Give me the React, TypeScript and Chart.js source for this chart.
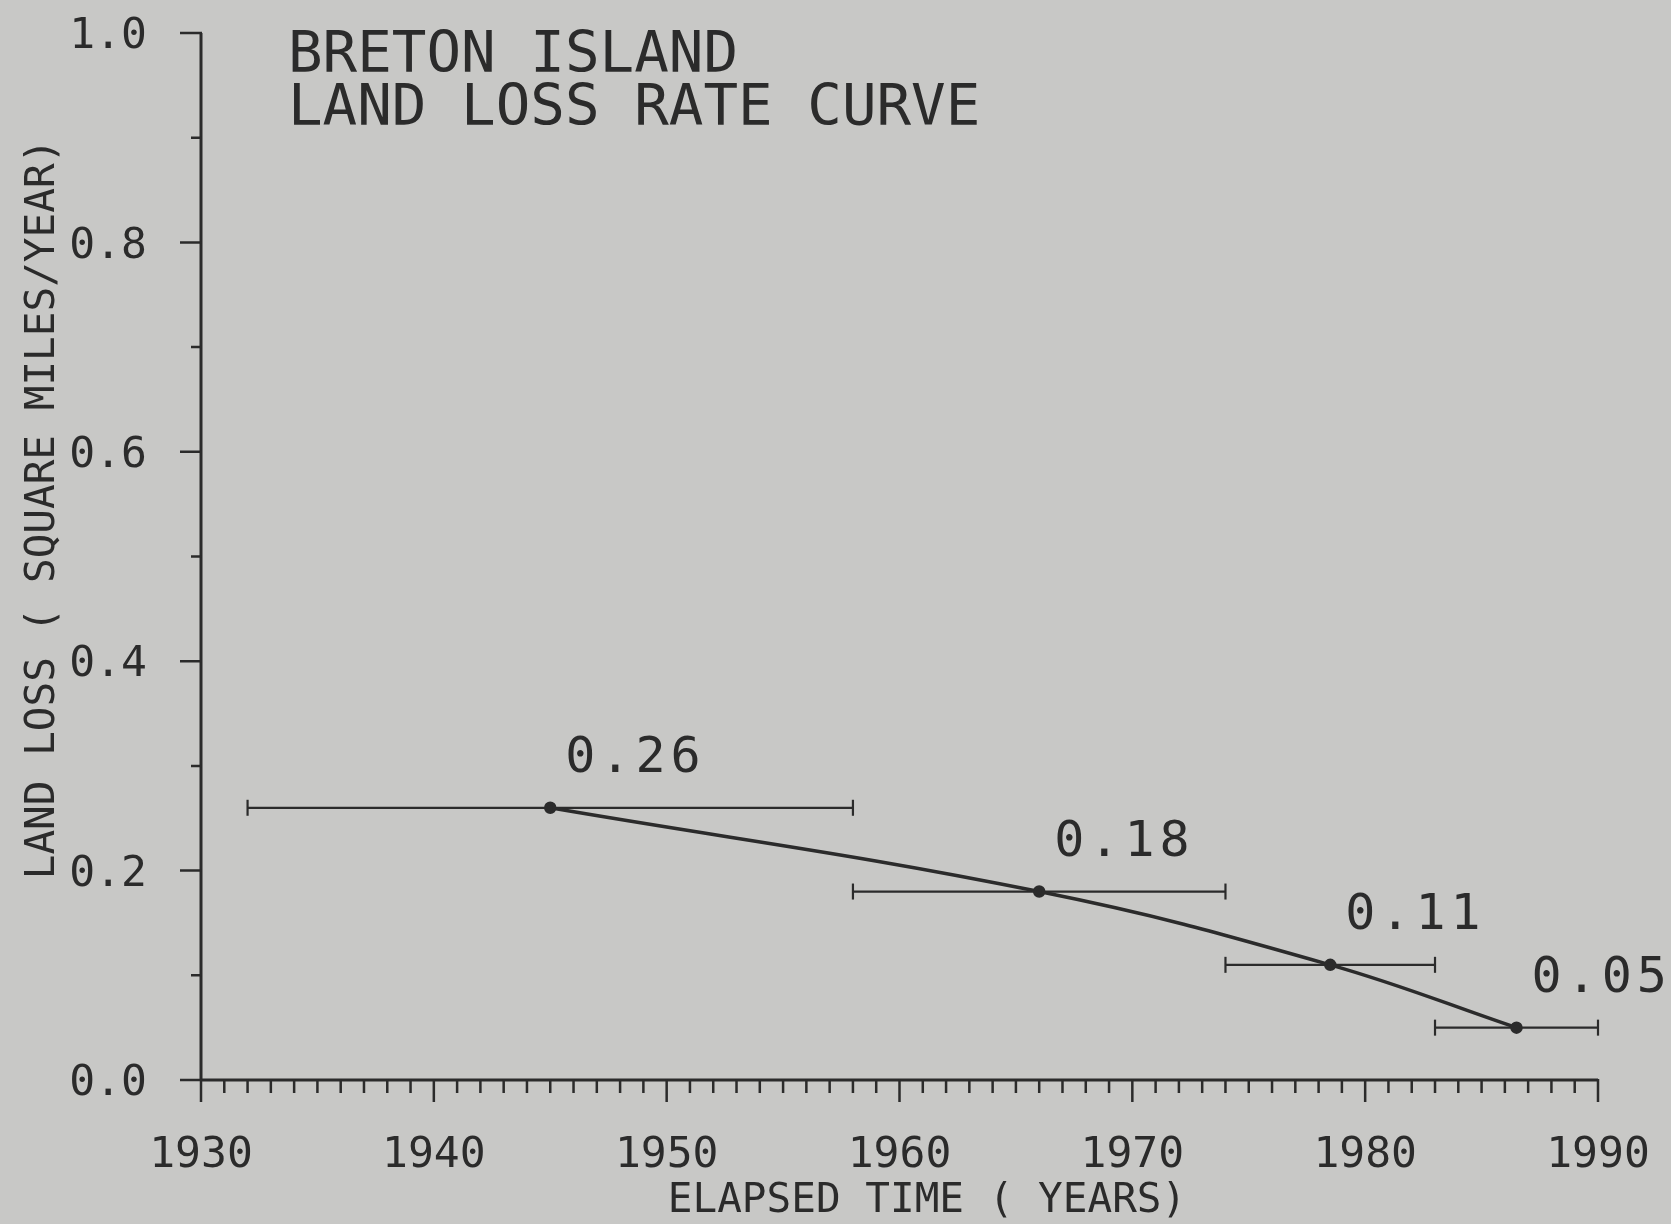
import React, { useEffect, useRef } from "react";
import { Chart, registerables } from "chart.js";

Chart.register(...registerables);

// ---- Data ----
const periodStart = [1932, 1958, 1974, 1983];
const periodEnd = [1958, 1974, 1983, 1990];
const midYears = [1945, 1966, 1978.5, 1986.5];
const lossRates = [0.26, 0.18, 0.11, 0.05];
const rateLabels = ["0.26", "0.18", "0.11", "0.05"];
const titleLines = ["BRETON ISLAND", "LAND LOSS RATE CURVE"];
const xAxisTitle = "ELAPSED TIME ( YEARS)";
const yAxisTitle = "LAND LOSS ( SQUARE MILES/YEAR)";
const xMin = 1930;
const xMax = 1990;
const yMin = 0;
const yMax = 1.0;

const BG = "#c8c8c6";
const INK = "#2b2b2b";
const FONT = "'DejaVu Sans Mono', 'Liberation Mono', monospace";

const overlayPlugin = {
  id: "plotterOverlay",
  beforeDraw(chart: any) {
    const { ctx, width, height } = chart;
    ctx.save();
    ctx.fillStyle = BG;
    ctx.fillRect(0, 0, width, height);
    ctx.restore();
  },
  afterDraw(chart: any) {
    const { ctx } = chart;
    const xs = chart.scales.x;
    const ys = chart.scales.y;
    const x0 = xs.getPixelForValue(xMin);
    const x1 = xs.getPixelForValue(xMax);
    const y0 = ys.getPixelForValue(yMin);
    const y1 = ys.getPixelForValue(yMax);
    ctx.save();
    ctx.strokeStyle = INK;
    ctx.lineCap = "butt";
    // axes
    ctx.lineWidth = 3;
    ctx.beginPath();
    ctx.moveTo(x0, y1);
    ctx.lineTo(x0, y0);
    ctx.moveTo(x0, y0);
    ctx.lineTo(x1, y0);
    ctx.stroke();
    // y ticks
    ctx.lineWidth = 2.5;
    ctx.beginPath();
    for (let i = 0; i <= 10; i++) {
      const v = i / 10;
      const py = ys.getPixelForValue(v);
      const len = i % 2 === 0 ? 21 : 10;
      ctx.moveTo(x0 + 1, py);
      ctx.lineTo(x0 - len, py);
    }
    // x ticks
    for (let yr = xMin; yr <= xMax; yr++) {
      const px = xs.getPixelForValue(yr);
      const len = yr % 10 === 0 ? 22 : 13;
      ctx.moveTo(px, y0 - 1);
      ctx.lineTo(px, y0 + len);
    }
    ctx.stroke();

    ctx.fillStyle = INK;
    // title
    ctx.font = `57.5px ${FONT}`;
    ctx.textAlign = "left";
    ctx.textBaseline = "alphabetic";
    ctx.fillText(titleLines[0], 288, 72);
    ctx.fillText(titleLines[1], 288, 125);

    // value labels
    try { (ctx as any).letterSpacing = "5px"; } catch (e) {}
    ctx.font = `50px ${FONT}`;
    for (let i = 0; i < lossRates.length; i++) {
      const px = xs.getPixelForValue(midYears[i]);
      const py = ys.getPixelForValue(lossRates[i]);
      ctx.fillText(rateLabels[i], px + 15, py - 36);
    }
    try { (ctx as any).letterSpacing = "0px"; } catch (e) {}

    // axis titles
    ctx.font = `41px ${FONT}`;
    ctx.textAlign = "center";
    ctx.textBaseline = "alphabetic";
    ctx.fillText(xAxisTitle, 927, 1212);

    ctx.save();
    ctx.translate(54, 509);
    ctx.rotate(-Math.PI / 2);
    ctx.fillText(yAxisTitle, 0, 0);
    ctx.restore();

    ctx.restore();
  },
};

function zeroPad(s: any) {
  s.paddingTop = 0;
  s.paddingBottom = 0;
  s.paddingLeft = 0;
  s.paddingRight = 0;
}

export default function App() {
  const canvasRef = useRef<HTMLCanvasElement | null>(null);

  useEffect(() => {
    document.body.style.margin = "0";
    document.body.style.background = BG;
    const canvas = canvasRef.current;
    if (!canvas) return;

    const errorBarSets = periodStart.map((s, i) => ({
      label: `period ${i + 1}`,
      data: [
        { x: s, y: lossRates[i] },
        { x: periodEnd[i], y: lossRates[i] },
      ],
      borderColor: INK,
      borderWidth: 2.2,
      tension: 0,
      pointStyle: "line",
      rotation: 90,
      pointRadius: 8,
      pointBorderWidth: 2.2,
      pointBorderColor: INK,
      clip: false as any,
      order: 2,
    }));

    const chart = new Chart(canvas, {
      type: "line",
      data: {
        datasets: [
          {
            label: "Land loss rate",
            data: midYears.map((x, i) => ({ x, y: lossRates[i] })),
            borderColor: INK,
            borderWidth: 3.5,
            tension: 0.4,
            pointRadius: 4.5,
            pointBackgroundColor: INK,
            pointBorderColor: INK,
            clip: false as any,
            order: 1,
          },
          ...errorBarSets,
        ] as any,
      },
      options: {
        animation: false,
        responsive: false,
        maintainAspectRatio: false,
        devicePixelRatio: 1,
        layout: { padding: { left: 0, top: 33, right: 73, bottom: 0 } },
        plugins: {
          legend: { display: false },
          tooltip: { enabled: false },
          title: { display: false },
        },
        scales: {
          x: {
            type: "linear",
            min: xMin,
            max: xMax,
            grid: { display: false, drawTicks: false },
            border: { display: false },
            ticks: {
              stepSize: 10,
              autoSkip: false,
              maxRotation: 0,
              color: INK,
              font: { family: FONT, size: 43 },
              padding: 50,
              callback: (v: any) => String(v),
            },
            afterFit: (s: any) => {
              s.height = 144;
              zeroPad(s);
            },
          },
          y: {
            type: "linear",
            min: yMin,
            max: yMax,
            grid: { display: false, drawTicks: false },
            border: { display: false },
            ticks: {
              stepSize: 0.2,
              color: INK,
              font: { family: FONT, size: 43 },
              padding: 54,
              labelOffset: 4,
              callback: (v: any) => Number(v).toFixed(1),
            },
            afterFit: (s: any) => {
              s.width = 201;
              zeroPad(s);
            },
          },
        },
      },
      plugins: [overlayPlugin],
    });

    return () => chart.destroy();
  }, []);

  return (
    <div style={{ position: "absolute", left: 0, top: 0, width: 1671, height: 1224 }}>
      <canvas ref={canvasRef} width={1671} height={1224} style={{ width: 1671, height: 1224, display: "block" }} />
    </div>
  );
}
